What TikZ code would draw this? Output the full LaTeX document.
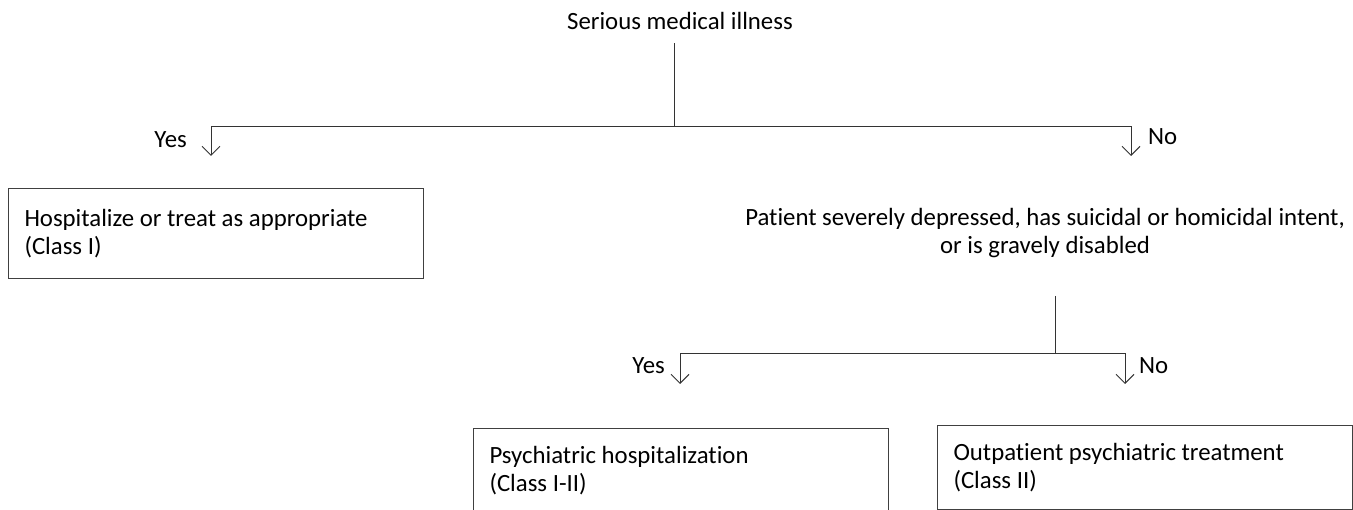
\documentclass[tikz,border=0pt]{standalone}
\usepackage{fontspec}
\setmainfont{Carlito}[RawFeature={-liga;-clig;-calt;-dlig}]
\usetikzlibrary{arrows.meta}
\begin{document}
\begin{tikzpicture}[x=1pt,y=-1pt,
  every node/.style={font=\fontsize{24.8}{28}\selectfont, inner sep=0pt},
  conn/.style={draw=black!80, line width=1pt},
  arr/.style={conn, -{Straight Barb[length=9pt,width=18pt,line width=1pt]}},
  outcome/.style={draw=black!75, line width=1pt, anchor=north west, text width=383pt,
    align=flush left, inner xsep=16pt, inner ysep=0pt, minimum width=415pt},
  lbl/.style={}]
\path[use as bounding box] (0,0) rectangle (1353,510);
\clip (0,0) rectangle (1353,510);

% nodes
\node[anchor=base] (top) at (680,30) {Serious medical illness};
\node[outcome, minimum height=90pt] (hosp) at (8,188)
  {Hospitalize or treat as appropriate\\(Class I)};
\node[align=flush center] (q2) at (1045,233)
  {Patient severely depressed, has suicidal or homicidal intent,\\or is gravely disabled};
\node[outcome, minimum height=84pt] (psych) at (473,428)
  {Psychiatric hospitalization\\(Class I-II)};
\node[outcome, minimum height=84pt] (outp) at (937,425)
  {Outpatient psychiatric treatment\\(Class II)};

% labels
\node[lbl, anchor=base east] (yes1) at (187,148) {Yes};
\node[lbl, anchor=base west] (no1) at (1148,145) {No};
\node[lbl, anchor=base east] (yes2) at (665,374) {Yes};
\node[lbl, anchor=base west] (no2) at (1139,374) {No};

% junctions and free arrow ends
\coordinate (j1) at (674,127);
\coordinate (a1) at (211,156);
\coordinate (a2) at (1131,156);
\coordinate (j2) at (1055,354);
\coordinate (a3) at (680,384);
\coordinate (a4) at (1125,384);

% connectors
\draw[conn] ([yshift=-13pt]top.south -| j1) -- (j1);
\draw[arr] (j1) -| (a1);
\draw[arr] (j1) -| (a2);
\draw[conn] ([yshift=-38pt]q2.south -| j2) -- (j2);
\draw[arr] (j2) -| (a3);
\draw[arr] (j2) -| (a4);
\end{tikzpicture}
\end{document}
